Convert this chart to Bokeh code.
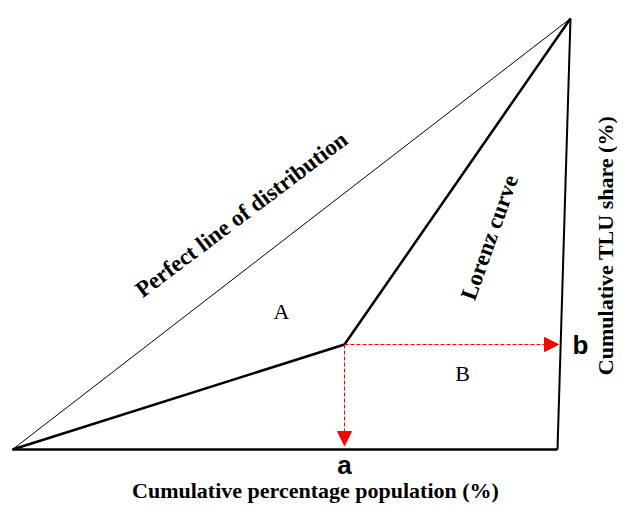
from bokeh.plotting import figure
from bokeh.models import Range1d, Arrow, NormalHead
from bokeh.core.properties import value
from bokeh.embed import file_html
from bokeh.resources import INLINE
import math

W, H = 617, 504

# Diagram geometry (plot units, origin at bottom-left)
origin = (12, H - 449)
top_corner = (570, H - 18)
kink = (344, H - 344)
bottom_right = (557, H - 449)

perfect_x = [origin[0], top_corner[0]]
perfect_y = [origin[1], top_corner[1]]
lorenz_x = [origin[0], kink[0], top_corner[0]]
lorenz_y = [origin[1], kink[1], top_corner[1]]
frame_x = [origin[0], bottom_right[0], top_corner[0]]
frame_y = [origin[1], bottom_right[1], top_corner[1]]

curve_labels = ["Perfect line of distribution", "Lorenz curve"]
curve_label_x = [241, 489]
curve_label_y = [H - 214, H - 237]
curve_label_angle = [37.0, 70.5]

area_labels = ["A", "B"]
area_label_x = [281, 462]
area_label_y = [H - 311, H - 373]

x_title = "Cumulative percentage population (%)"
y_title = "Cumulative TLU share (%)"

p = figure(width=W, height=H, x_range=Range1d(0, W), y_range=Range1d(0, H),
           output_backend="svg", toolbar_location=None, min_border=0)
p.axis.visible = False
p.grid.visible = False
p.outline_line_color = None
p.background_fill_color = "white"

p.line(perfect_x, perfect_y, line_color="black", line_width=1)
p.line(lorenz_x, lorenz_y, line_color="black", line_width=2.5)
p.line(frame_x[:2], frame_y[:2], line_color="black", line_width=2.5)
p.line(frame_x[1:], frame_y[1:], line_color="black", line_width=2)

# red dashed arrows
p.add_layout(Arrow(end=NormalHead(size=14, fill_color="red", line_color="red"),
                   x_start=kink[0], y_start=kink[1], x_end=bottom_right[0] + 1, y_end=kink[1],
                   line_color="red", line_dash="4 2", line_width=1))
p.add_layout(Arrow(end=NormalHead(size=14, fill_color="red", line_color="red"),
                   x_start=kink[0], y_start=kink[1], x_end=kink[0], y_end=origin[1] + 4,
                   line_color="red", line_dash="4 2", line_width=1))

p.text(x=curve_label_x, y=curve_label_y, text=curve_labels,
       angle=[math.radians(v) for v in curve_label_angle],
       text_font=value("Liberation Serif"), text_font_style="bold", text_font_size="23px",
       text_align="center", text_baseline="middle", text_color="black")
p.text(x=area_label_x, y=area_label_y, text=area_labels,
       text_font=value("Liberation Serif"), text_font_size="22px",
       text_align="center", text_baseline="middle", text_color="black")

# point labels a and b
p.text(x=[kink[0], bottom_right[0] + 23], y=[H - 464, kink[1]], text=["a", "b"],
       text_font=value("Liberation Sans"), text_font_style="bold", text_font_size="26px",
       text_align="center", text_baseline="middle", text_color="black")

# axis titles
p.text(x=[315], y=[H - 490], text=[x_title],
       text_font=value("Liberation Serif"), text_font_style="bold", text_font_size="22px",
       text_align="center", text_baseline="middle", text_color="black")
p.text(x=[605], y=[H - 245], text=[y_title], angle=[math.pi / 2],
       text_font=value("Liberation Serif"), text_font_style="bold", text_font_size="22px",
       text_align="center", text_baseline="middle", text_color="black")

open("out.html", "w").write(file_html(p, INLINE))
